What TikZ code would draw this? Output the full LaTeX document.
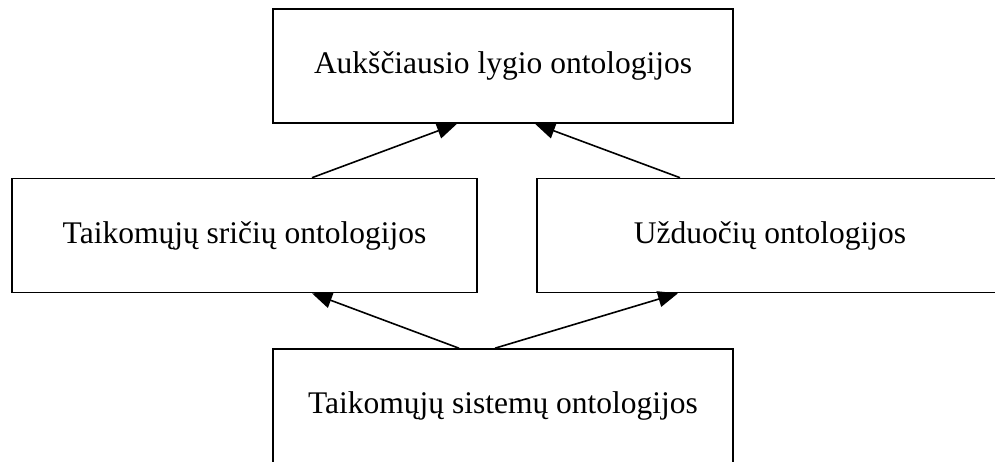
\documentclass[tikz,border=0pt]{standalone}
\usepackage{fontspec}
\setmainfont{Liberation Serif}
\usetikzlibrary{arrows.meta}
\begin{document}
\begin{tikzpicture}[x=1pt,y=-1pt,
  box/.style={draw, line width=1.6pt, inner sep=0pt, minimum height=114pt,
    font=\fontsize{31.5}{36}\selectfont},
  arr/.style={line width=1.6pt, -{Triangle[length=20pt,width=16pt]}}]
  \useasboundingbox (0,0) rectangle (995,461);
  \node[box, minimum width=460pt] (top) at (503,66) {Aukščiausio lygio ontologijos};
  \node[box, minimum width=465pt] (dom) at (244.5,235.5) {Taikomųjų sričių ontologijos};
  \node[box, minimum width=466pt] (task) at (770,235.5) {Užduočių ontologijos};
  \node[box, minimum width=460pt] (app) at (503,406) {Taikomųjų sistemų ontologijos};
  \draw[arr] ([xshift=67.5pt]dom.north) -- ([xshift=-46pt]top.south);
  \draw[arr] ([xshift=-90pt]task.north) -- ([xshift=32pt]top.south);
  \draw[arr] ([xshift=-44pt]app.north) -- ([xshift=67.5pt]dom.south);
  \draw[arr] ([xshift=-8pt]app.north) -- ([xshift=-92pt]task.south);
\end{tikzpicture}
\end{document}
